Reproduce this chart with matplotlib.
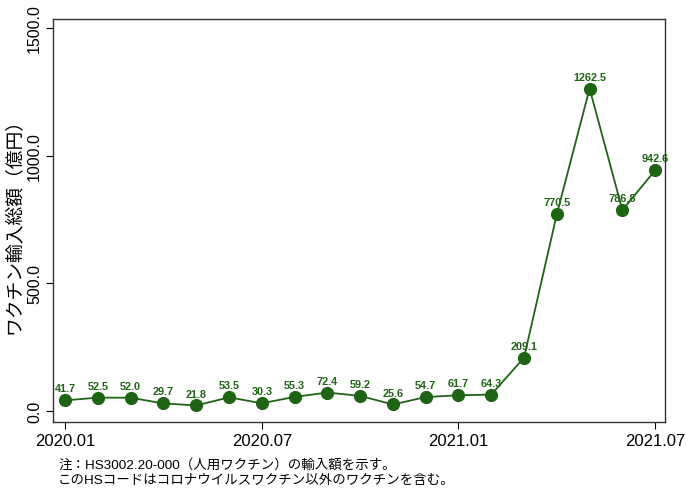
import numpy as np
import matplotlib
matplotlib.use('Agg')
import matplotlib.pyplot as plt

plt.rcParams['font.family'] = ['Liberation Sans', 'Noto Sans CJK JP', 'DejaVu Sans']

months = ['2020.01', '2020.02', '2020.03', '2020.04', '2020.05', '2020.06', '2020.07',
          '2020.08', '2020.09', '2020.10', '2020.11', '2020.12', '2021.01', '2021.02',
          '2021.03', '2021.04', '2021.05', '2021.06', '2021.07']
values = [41.7, 52.5, 52.0, 29.7, 21.8, 53.5, 30.3, 55.3, 72.4, 59.2, 25.6, 54.7,
          61.7, 64.3, 209.1, 770.5, 1262.5, 786.8, 942.6]
tick_months = ['2020.01', '2020.07', '2021.01', '2021.07']
yticks = [0, 500, 1000, 1500]

green = '#1e6414'

fig = plt.figure(figsize=(6.88, 4.89), dpi=100)
ax = fig.add_axes([53 / 688, 1 - 423 / 489, 612 / 688, 403 / 489])

x = np.arange(len(months))
ax.plot(x, values, color=green, lw=1.3, marker='o', ms=8.5, mfc=green, mec=green)
for xi, v in zip(x, values):
    ax.annotate('%.1f' % v, (xi, v), xytext=(0, 5), textcoords='offset points',
                ha='center', va='bottom', fontsize=7.8, fontweight='bold', color=green)

ax.set_xlim(-0.37, 18.3)
ax.set_ylim(-43, 1535)
ax.set_xticks([months.index(m) for m in tick_months])
ax.set_xticklabels(tick_months, fontsize=12)
ax.set_yticks(yticks)
ax.set_yticklabels(['%.1f' % t for t in yticks], fontsize=11.5, rotation=90, va='center')
ax.tick_params(direction='out', length=5, width=0.8, pad=3)
for s in ax.spines.values():
    s.set_linewidth(1.0)
    s.set_color('#333333')
ax.set_ylabel('ワクチン輸入総額（億円）', fontsize=13.5, labelpad=2)

fig.text(58 / 688, 1 - 465 / 489, '注：HS3002.20-000（人用ワクチン）の輸入額を示す。', fontsize=9.7, va='center')
fig.text(58 / 688, 1 - 481 / 489, 'このHSコードはコロナウイルスワクチン以外のワクチンを含む。', fontsize=9.7, va='center')

fig.savefig('out.png', dpi=100)
